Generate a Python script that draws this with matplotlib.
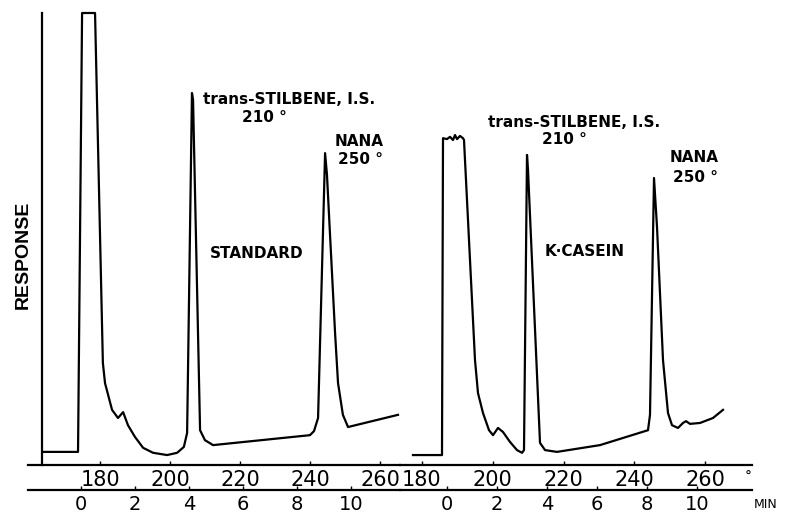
import matplotlib
matplotlib.use("Agg")
import matplotlib.pyplot as plt
from matplotlib.ticker import FixedLocator

# ---------------- data (time in min, response in % of full scale) ----------------
std_time = [-1.41, -0.11, 0.04, 0.52, 0.81, 0.89, 1.15, 1.37, 1.56, 1.74, 2.00, 2.30,
            2.67, 3.19, 3.56, 3.81, 3.93, 4.11, 4.15, 4.41, 4.59, 4.89, 8.48, 8.63,
            8.78, 9.04, 9.11, 9.22, 9.41, 9.52, 9.70, 9.89, 11.74]
std_resp = [2.9, 2.9, 100.0, 100.0, 22.6, 18.1, 12.2, 10.4, 11.7, 8.8, 6.2, 3.8,
            2.7, 2.2, 2.7, 4.0, 7.1, 82.3, 80.8, 7.7, 5.5, 4.4, 6.6, 7.5,
            10.4, 69.0, 64.2, 51.3, 29.2, 18.1, 11.1, 8.4, 11.1]

cas_time = [-1.36, -0.20, -0.16, 0.00, 0.12, 0.24, 0.32, 0.40, 0.52, 0.64, 0.68,
            1.12, 1.24, 1.44, 1.68, 1.84, 2.04, 2.24, 2.52, 2.80, 3.00, 3.08,
            3.20, 3.24, 3.72, 3.92, 4.40, 6.12, 8.04, 8.12, 8.28, 8.40, 8.64,
            8.84, 9.00, 9.24, 9.44, 9.56, 9.72, 10.12, 10.64, 11.04]
cas_resp = [2.2, 2.2, 72.3, 72.1, 72.6, 71.9, 73.0, 72.1, 72.8, 72.3, 71.9,
            23.2, 15.9, 11.5, 7.7, 6.6, 8.2, 7.3, 5.1, 3.3, 2.7, 3.3,
            68.6, 65.3, 4.9, 3.3, 2.9, 4.4, 7.7, 11.1, 63.5, 52.7, 23.2,
            11.5, 8.8, 8.2, 9.3, 9.7, 9.1, 9.3, 10.4, 12.2]

temp_ticks = [180, 200, 220, 240, 260]
min_ticks = [0, 2, 4, 6, 8, 10]
# temperature program relation for each run: T = T0 + rate * t
std_T0, std_rate = 174.57, 7.714
cas_T0, cas_rate = 187.06, 7.06

# ---------------- figure ----------------
W, H = 786, 515
fig = plt.figure(figsize=(W / 100, H / 100), dpi=100)
fig.patch.set_facecolor("white")

def fx(px):
    return px / W

def fy(py):
    return 1 - py / H

ax_top, ax_bot = 13, 465
ax_h = (ax_bot - ax_top) / H
lw = 1.6

def setup(ax, xlim, T0, rate, show_left, left_frac=0.0):
    ax.set_xlim(*xlim)
    ax.set_ylim(0, 100)
    for s in ("top", "right", "bottom"):
        ax.spines[s].set_visible(False)
    if show_left:
        ax.spines["left"].set_position(("axes", left_frac))
        ax.spines["left"].set_linewidth(lw)
    else:
        ax.spines["left"].set_visible(False)
    ax.set_yticks([])
    ax.set_xticks([])
    ax.patch.set_alpha(0)

    sec_t = ax.secondary_xaxis(0.0, functions=(lambda t: T0 + rate * t,
                                              lambda T: (T - T0) / rate))
    sec_t.xaxis.set_major_locator(FixedLocator(temp_ticks))
    sec_t.spines["bottom"].set_linewidth(lw)
    sec_t.tick_params(direction="in", length=3, width=1, pad=3.5)
    for lab in sec_t.get_xticklabels():
        lab.set_fontfamily("DejaVu Sans")
        lab.set_fontsize(15)

    loc = -(490 - 465) / (ax_bot - ax_top)
    sec_m = ax.secondary_xaxis(loc, functions=(lambda t: t, lambda t: t))
    sec_m.xaxis.set_major_locator(FixedLocator(min_ticks))
    sec_m.spines["bottom"].set_linewidth(lw)
    sec_m.tick_params(direction="in", length=3, width=1, pad=3.5)
    for lab in sec_m.get_xticklabels():
        lab.set_fontfamily("DejaVu Sans")
        lab.set_fontsize(14)

# panel 1 : standard
x1l, x1r = 28, 400
ax1 = fig.add_axes([fx(x1l), fy(ax_bot), (x1r - x1l) / W, ax_h])
t1_per_px = 1 / 27.0
setup(ax1, ((x1l - 81) * t1_per_px, (x1r - 81) * t1_per_px), std_T0, std_rate,
      True, (42 - x1l) / (x1r - x1l))
ax1.plot(std_time, std_resp, color="black", lw=lw, clip_on=False,
         solid_joinstyle="round")

# panel 2 : k-casein
x2l, x2r = 400, 752
ax2 = fig.add_axes([fx(x2l), fy(ax_bot), (x2r - x2l) / W, ax_h])
t2_per_px = 1 / 25.0
setup(ax2, ((x2l - 447) * t2_per_px, (x2r - 447) * t2_per_px), cas_T0, cas_rate,
      False)
ax2.plot(cas_time, cas_resp, color="black", lw=lw, clip_on=False,
         solid_joinstyle="round")

# ---------------- texts ----------------
ann = dict(family="DejaVu Sans", size=11, weight="bold", color="black",
           va="center", ha="left")
fig.text(fx(203), fy(100), "trans-STILBENE, I.S.", **ann)
fig.text(fx(242), fy(118), "210 °", **ann)
fig.text(fx(335), fy(142), "NANA", **ann)
fig.text(fx(338), fy(160), "250 °", **ann)
fig.text(fx(210), fy(253), "STANDARD", **ann)

fig.text(fx(488), fy(123), "trans-STILBENE, I.S.", **ann)
fig.text(fx(542), fy(140), "210 °", **ann)
fig.text(fx(670), fy(158), "NANA", **ann)
fig.text(fx(673), fy(177), "250 °", **ann)
fig.text(fx(545), fy(252), "K·CASEIN", **ann)

fig.text(fx(23), fy(255), "RESPONSE", family="Liberation Sans", weight="bold",
         size=14, rotation=90, ha="center", va="center")
fig.text(fx(748), fy(477), "°", family="DejaVu Sans", size=10, ha="center", va="center")
fig.text(fx(766), fy(505), "MIN", family="DejaVu Sans", size=9, ha="center", va="center")

fig.savefig("out.png", dpi=100, facecolor="white")
